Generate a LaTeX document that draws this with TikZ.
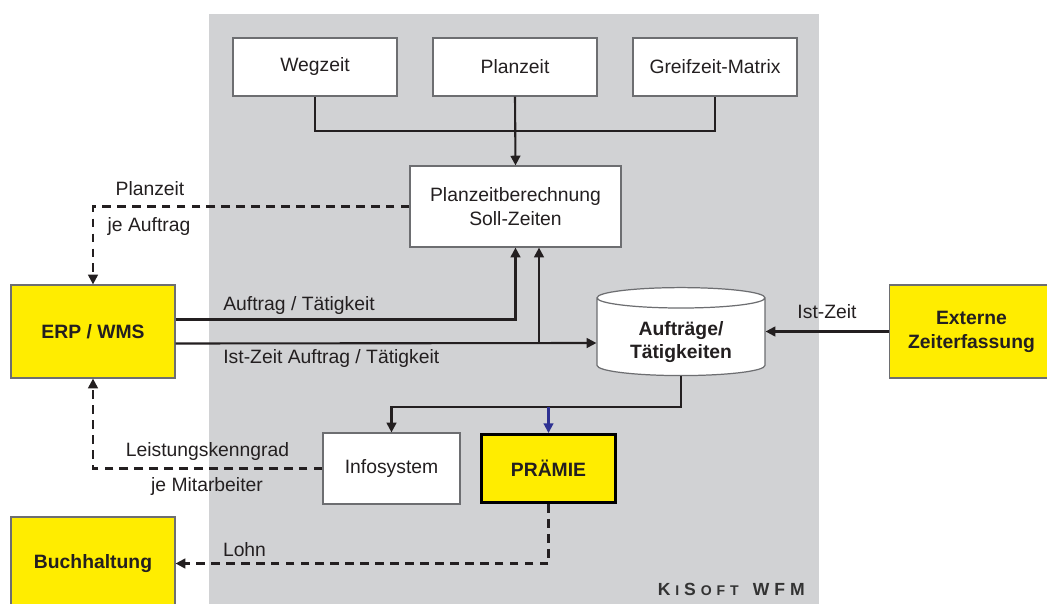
\documentclass[tikz,border=0pt]{standalone}
\usepackage{fontspec}
\setmainfont{Liberation Sans}
\usetikzlibrary{arrows.meta,shapes.geometric}
\definecolor{kgray}{HTML}{D1D2D4}
\definecolor{kyellow}{HTML}{FFED00}
\definecolor{kline}{HTML}{231F20}
\definecolor{kframe}{HTML}{6D6E71}
\definecolor{kblue}{HTML}{2E3192}
\newcommand{\kssmall}[1]{{\fontsize{8}{10}\selectfont #1}}
\begin{document}
\begin{tikzpicture}[x=0.02cm,y=-0.02cm,font=\fontsize{11}{13.6}\selectfont,
		bx/.style={draw=kframe,line width=0.7pt,fill=white,minimum width=3.28cm,
					minimum height=1.16cm,inner sep=0pt,align=center,text=kline},
		yb/.style={draw=kframe,line width=0.7pt,fill=kyellow,minimum width=3.28cm,
					minimum height=1.86cm,inner sep=0pt,align=center,text=kline,
					font=\fontsize{11}{13.6}\selectfont\bfseries},
		cy/.style={cylinder,shape border rotate=90,aspect=0.2,draw=kframe,line width=0.7pt,
					fill=white,minimum width=3.36cm,minimum height=1.76cm,inner sep=0pt,
					align=center,text=kline,font=\fontsize{11}{13.6}\selectfont\bfseries},
		ln/.style={draw=kline,line width=1.2pt},
		ar/.style={ln,-{Triangle[length=5.5pt,width=5.5pt]}},
		dar/.style={ar,dash pattern=on 5pt off 3.5pt},
		lbl/.style={text=kline,inner sep=0pt,anchor=base}]
	\clip (0,0) rectangle (1047,604);
	\fill[kgray] (209,14) rectangle (819,610);

	% inputs
	\node[bx] (weg) at (315,67) {Wegzeit};
	\node[bx] (plz) at (515,67) {Planzeit};
	\node[bx] (gzm) at (715,67) {Greifzeit-Matrix};
	\node[bx,minimum width=4.22cm,minimum height=1.62cm] (pzb) at (515.5,206.5)
		{Planzeitberechnung\\Soll-Zeiten};

	% outside systems
	\node[yb] (erp) at (93,331.5) {ERP / WMS};
	\node[yb] (buch) at (93,563.5) {Buchhaltung};
	\node[yb] (ext) at (971.5,331.5) {Externe\\Zeiterfassung};

	\node[cy] (db) at (681,337)
		{\raisebox{-0.2cm}[0pt][0pt]{\begin{tabular}{@{}c@{}}Aufträge/\\Tätigkeiten\end{tabular}}};
	\node[bx,minimum width=2.74cm,minimum height=1.42cm] (info) at (391.5,468.5) {Infosystem};
	\node[yb,draw=black,line width=1.7pt,minimum width=2.68cm,minimum height=1.36cm]
		(pra) at (548.5,468.5) {PRÄMIE};

	\draw[ln] (weg.south) -- ++(0,34) -| (gzm.south);
	\draw[ar] (plz.south) -- (pzb.north);

	\draw[ar] ([yshift=.24cm]erp.east) -| (pzb.south);
	\coordinate (br) at (539,343);
	\draw[ar] ([yshift=-.24cm]erp.east) -- (br -| db.west);
	\draw[ar] (br) -- (br |- pzb.south);
	\node[lbl,anchor=base west] (l1) at (223,311) {Auftrag / Tätigkeit};
	\node[lbl,anchor=base west] (l2) at (223,363) {Ist-Zeit Auftrag / Tätigkeit};

	\draw[ar] (ext.west) -- (ext.west -| db.east);
	\node[lbl] (l3) at (827,318) {Ist-Zeit};

	\draw[ar] (db.south) -- ++(0,31) coordinate (sp) -| (info.north);
	\draw[ar,draw=kblue,fill=kblue] (sp -| pra.north) -- (pra.north);

	% dashed flows
	\draw[dar] (pzb.west) -| (erp.north);
	\node[lbl] (l4) at (150,196) {Planzeit};
	\node[lbl] (l5) at (149,232) {je Auftrag};

	\draw[dar] (info.west) -| (erp.south);
	\node[lbl] (l6) at (207.5,456) {Leistungskenngrad};
	\node[lbl] (l7) at (207,491) {je Mitarbeiter};

	\draw[dar] (pra.south) |- (buch.east);
	\node[lbl] (l8) at (244.5,556) {Lohn};

	\node[lbl,anchor=base east,text=black!80,font=\fontsize{10}{12}\selectfont\bfseries] (kis) at (805,595)
		{K\kern2.8pt\kssmall{I}\kern2.8pt S\kern2.8pt\kssmall{O}\kern2.8pt\kssmall{F}\kern2.8pt\kssmall{T}%
		\kern8pt W\kern2.8pt F\kern2.8pt M};
\end{tikzpicture}
\end{document}
